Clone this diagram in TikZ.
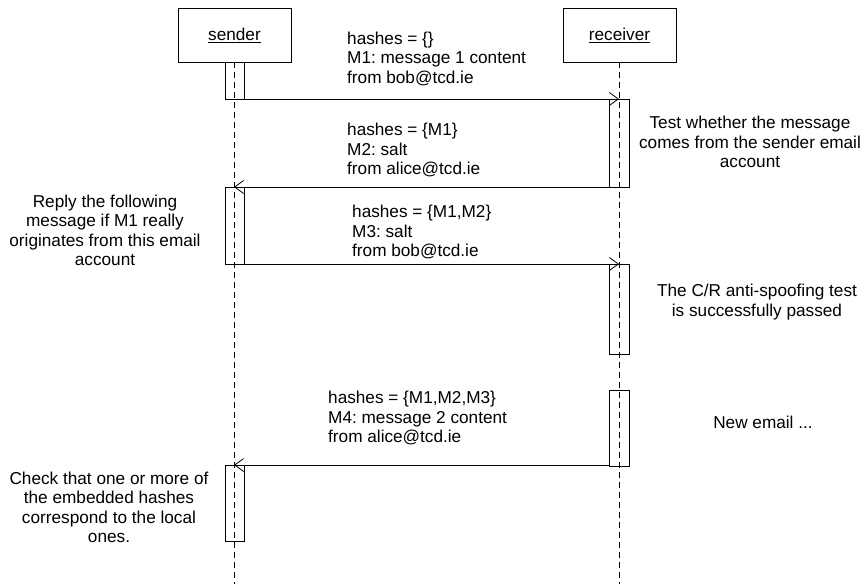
\documentclass[tikz,border=0pt]{standalone}
\usepackage{fontspec}
\setmainfont{Liberation Sans}
\usetikzlibrary{arrows.meta}
\frenchspacing
\begin{document}
\begin{tikzpicture}[x=1pt,y=-1pt,
  every node/.style={font=\fontsize{17.2}{19.5}\selectfont, inner sep=0pt},
  actor/.style={draw, line width=0.8pt, minimum width=113pt, minimum height=54pt},
  lifeline/.style={line width=0.8pt, dash pattern=on 6pt off 4pt},
  activation/.style={draw, line width=0.8pt},
  msg/.style={line width=0.8pt, -{Straight Barb[length=9pt,width=13pt,line width=0.8pt]}},
  msglabel/.style={align=left, anchor=west},
  note/.style={align=center}]
\useasboundingbox (0,0) rectangle (864,584);

% participants
\node[actor] (sender) at (234.5,35) {\underline{sender}};
\node[actor] (receiver) at (619.5,35) {\underline{receiver}};

% lifelines
\coordinate (sEnd) at (234,584);
\coordinate (rEnd) at (619,584);
\draw[lifeline] (sender.south -| sEnd) -- (sEnd);
\draw[lifeline] (receiver.south -| rEnd) -- (rEnd);

% activation bars
\draw[activation] (225,62) rectangle (244,99);
\draw[activation] (609,99) rectangle (629,187);
\draw[activation] (225,187) rectangle (244,264);
\draw[activation] (609,264) rectangle (629,354);
\draw[activation] (609,390) rectangle (629,466);
\draw[activation] (225,465) rectangle (244,541);

% message end points
\coordinate (m1a) at (244,99);  \coordinate (m1b) at (619,99);
\coordinate (m2a) at (609,187); \coordinate (m2b) at (234,187);
\coordinate (m3a) at (244,264); \coordinate (m3b) at (619,264);
\coordinate (m4a) at (609,465); \coordinate (m4b) at (234,465);

% messages
\draw[msg] (m1a) -- (m1b);
\draw[msg] (m2a) -- (m2b);
\draw[msg] (m3a) -- (m3b);
\draw[msg] (m4a) -- (m4b);

% message labels
\node[msglabel] (l1) at (347,58.5) {hashes = \{\}\\M1: message 1 content\\from bob@tcd.ie};
\node[msglabel] (l2) at (347,150) {hashes = \{M1\}\\M2: salt\\from alice@tcd.ie};
\node[msglabel] (l3) at (352,232) {hashes = \{M1,M2\}\\M3: salt\\from bob@tcd.ie};
\node[msglabel] (l4) at (328,418) {hashes = \{M1,M2,M3\}\\M4: message 2 content\\from alice@tcd.ie};

% notes
\node[note] (n1) at (750,142) {Test whether the message\\comes from the sender email\\account};
\node[note] (n2) at (757,302) {The C/R anti-spoofing test\\is successfully passed};
\node[note] (n3) at (763,422) {New email ...};
\node[note] (n4) at (105,230.5) {Reply the following\\message if M1 really\\originates from this email\\account};
\node[note] (n5) at (109,507.5) {Check that one or more of\\the embedded hashes\\correspond to the local\\ones.};
\end{tikzpicture}
\end{document}
